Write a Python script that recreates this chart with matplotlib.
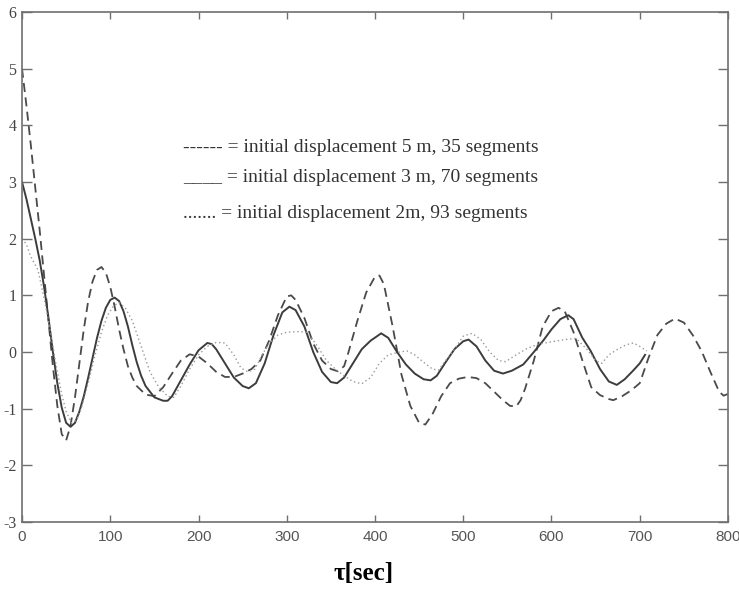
import matplotlib
matplotlib.use("Agg")
import matplotlib.pyplot as plt

plt.rcParams["axes.unicode_minus"] = False

# series (tau in sec, displacement in m)
t_5m = [0, 5, 10, 15, 20, 25, 30, 35, 40, 45, 50, 55, 60, 65, 70, 75, 80, 85, 90, 95,
        100, 105, 110, 115, 120, 125, 130, 140, 150, 160, 170, 180, 190, 200, 210, 220,
        230, 240, 250, 260, 270, 280, 290, 300, 305, 310, 320, 330, 340, 350, 358, 365,
        370, 380, 390, 400, 405, 410, 420, 430, 440, 450, 457, 465, 475, 485, 495, 505,
        515, 525, 535, 545, 553, 560, 565, 570, 580, 590, 600, 608, 615, 625, 635, 645,
        655, 665, 670, 680, 690, 700, 710, 720, 730, 740, 750, 760, 770, 780, 790, 795, 800]
y_5m = [5.0, 4.35, 3.65, 2.9, 2.15, 1.35, 0.55, -0.25, -0.95, -1.45, -1.56, -1.3, -0.8, -0.2,
        0.4, 0.9, 1.25, 1.45, 1.5, 1.4, 1.15, 0.8, 0.4, 0.05, -0.25, -0.45, -0.6, -0.75,
        -0.78, -0.62, -0.38, -0.15, -0.04, -0.08, -0.2, -0.35, -0.44, -0.44, -0.38, -0.3,
        -0.15, 0.2, 0.65, 0.98, 1.0, 0.92, 0.6, 0.15, -0.15, -0.3, -0.34, -0.25, 0.0, 0.55,
        1.05, 1.33, 1.35, 1.2, 0.45, -0.4, -0.95, -1.25, -1.28, -1.1, -0.78, -0.55, -0.47,
        -0.44, -0.46, -0.55, -0.7, -0.85, -0.95, -0.96, -0.85, -0.65, -0.15, 0.45, 0.72,
        0.78, 0.72, 0.35, -0.15, -0.62, -0.76, -0.83, -0.85, -0.78, -0.68, -0.55, -0.1,
        0.3, 0.5, 0.59, 0.52, 0.3, 0.02, -0.35, -0.7, -0.77, -0.74]

t_3m = [0, 5, 10, 15, 20, 25, 30, 35, 40, 45, 50, 55, 60, 65, 70, 75, 80, 85, 90, 95,
        100, 105, 110, 115, 120, 125, 130, 135, 140, 150, 160, 165, 170, 180, 190, 200,
        210, 215, 220, 230, 240, 250, 257, 265, 275, 285, 295, 303, 310, 320, 330, 340,
        350, 357, 365, 375, 385, 395, 407, 415, 425, 435, 445, 455, 463, 470, 480, 490,
        500, 506, 515, 525, 535, 545, 555, 568, 580, 591, 600, 610, 619, 625, 635, 644,
        655, 665, 674, 683, 693, 700, 706]
y_3m = [3.0, 2.7, 2.35, 2.0, 1.62, 1.15, 0.6, 0.0, -0.55, -0.98, -1.25, -1.32, -1.25, -1.05,
        -0.78, -0.45, -0.1, 0.25, 0.55, 0.78, 0.92, 0.96, 0.9, 0.72, 0.45, 0.12, -0.18,
        -0.42, -0.6, -0.8, -0.86, -0.86, -0.78, -0.5, -0.22, 0.03, 0.16, 0.14, 0.05, -0.2,
        -0.45, -0.6, -0.64, -0.55, -0.2, 0.3, 0.7, 0.8, 0.74, 0.45, 0.0, -0.35, -0.53,
        -0.55, -0.45, -0.2, 0.05, 0.2, 0.33, 0.25, 0.0, -0.22, -0.38, -0.48, -0.5, -0.42,
        -0.18, 0.05, 0.19, 0.22, 0.1, -0.15, -0.33, -0.38, -0.33, -0.22, 0.0, 0.21, 0.4,
        0.58, 0.65, 0.58, 0.25, 0.03, -0.3, -0.52, -0.58, -0.48, -0.32, -0.2, -0.05]

t_2m = [0, 5, 10, 18, 25, 30, 35, 40, 45, 50, 56, 62, 68, 75, 82, 90, 97, 104, 110, 117,
        125, 135, 145, 155, 165, 172, 180, 190, 200, 210, 220, 230, 240, 248, 256, 264,
        272, 280, 290, 300, 312, 323, 335, 345, 355, 365, 375, 385, 395, 405, 415, 428,
        436, 445, 455, 465, 472, 480, 490, 500, 510, 520, 530, 540, 548, 560, 572, 585,
        600, 615, 628, 640, 650, 657, 665, 675, 685, 693, 700, 708]
y_2m = [2.0, 1.9, 1.68, 1.45, 0.95, 0.55, 0.1, -0.35, -0.75, -1.05, -1.25, -1.2, -0.95,
        -0.55, -0.1, 0.35, 0.65, 0.82, 0.87, 0.78, 0.55, 0.1, -0.35, -0.62, -0.78, -0.8,
        -0.6, -0.3, -0.05, 0.1, 0.17, 0.16, -0.05, -0.28, -0.35, -0.3, -0.05, 0.15, 0.3,
        0.35, 0.36, 0.35, 0.1, -0.15, -0.3, -0.42, -0.52, -0.56, -0.45, -0.2, -0.05, 0.0,
        0.02, -0.05, -0.18, -0.3, -0.32, -0.15, 0.05, 0.28, 0.33, 0.22, 0.0, -0.15, -0.17,
        -0.05, 0.06, 0.14, 0.18, 0.22, 0.24, 0.05, -0.15, -0.2, -0.05, 0.05, 0.13, 0.16,
        0.1, 0.02]

legend_lines = ["------ = initial displacement 5 m, 35 segments",
                "____ = initial displacement 3 m, 70 segments",
                "....... = initial displacement 2m, 93 segments"]

x_ticks = [0, 100, 200, 300, 400, 500, 600, 700, 800]
y_ticks = [-3, -2, -1, 0, 1, 2, 3, 4, 5, 6]

fig = plt.figure(figsize=(7.39, 6.01), dpi=100)
ax = fig.add_axes([0.0298, 0.1314, 0.9553, 0.8486])

ax.plot(t_5m, y_5m, color="#4a4a4a", lw=1.3, dashes=(5, 3))
ax.plot(t_3m, y_3m, color="#3c3c3c", lw=1.4)
ax.plot(t_2m, y_2m, color="#999999", lw=1.0, dashes=(1, 2))

ax.set_xlim(0, 800)
ax.set_ylim(-3, 6)
ax.set_xticks(x_ticks)
ax.set_yticks(y_ticks)

for s in ax.spines.values():
    s.set_color("#707070")
    s.set_linewidth(1.2)

ax.tick_params(axis="both", direction="in", top=True, right=True, color="#707070")
ax.tick_params(axis="y", length=7, width=1.0, pad=4)
ax.tick_params(axis="x", length=5, width=1.0, pad=6)
for lab in ax.get_xticklabels():
    lab.set_family("Liberation Sans")
    lab.set_fontsize(11)
    lab.set_color("#555555")
for lab in ax.get_yticklabels():
    lab.set_family("Liberation Serif")
    lab.set_fontsize(11.5)
    lab.set_color("#444444")

legend_y = [0.735, 0.676, 0.604]
for txt, yy in zip(legend_lines, legend_y):
    ax.text(0.228, yy, txt, transform=ax.transAxes, family="Liberation Serif",
            fontsize=14, color="#333333", va="center", ha="left")

ax.set_xlabel("τ[sec]", family="Liberation Serif", fontsize=18, fontweight="bold")
ax.xaxis.set_label_coords(0.484, -0.078)

fig.savefig("out.png", dpi=100)
